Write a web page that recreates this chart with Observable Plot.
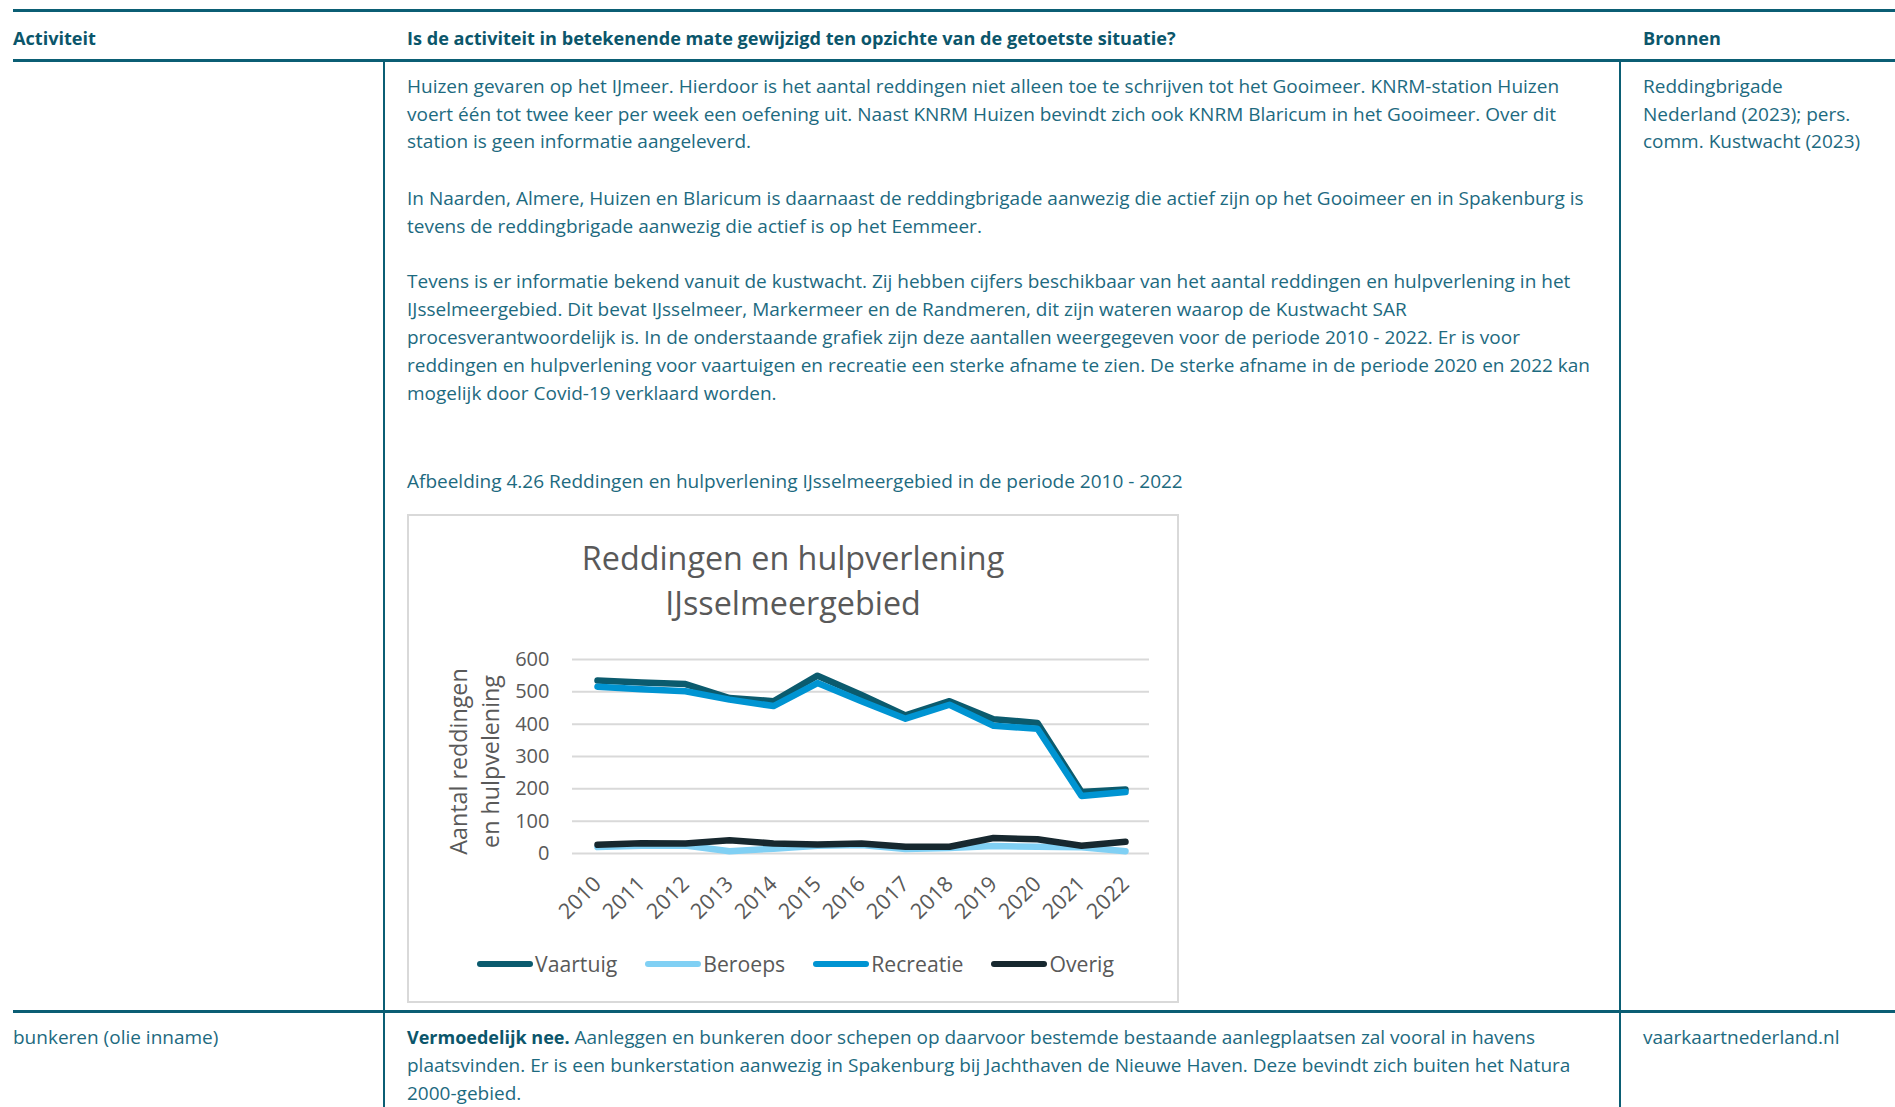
<!DOCTYPE html>
<html>
<head>
<meta charset="utf-8">
<script src="https://cdn.jsdelivr.net/npm/d3@7"></script>
<script src="https://cdn.jsdelivr.net/npm/@observablehq/plot@0.6"></script>
<style>
  body { margin: 0; background: #fff; }
  #page { position: relative; width: 1895px; height: 1107px; overflow: hidden; font-family: "Open Sans", sans-serif; color: #1d6a7f; }
  .hl { position: absolute; background: #0b5e74; height: 3px; left: 13px; right: 0; }
  .vl { position: absolute; background: #0b5e74; width: 2px; top: 61px; bottom: 0; }
  .t { position: absolute; white-space: nowrap; font-size: 19px; line-height: 27.9px; }
  .h { font-weight: 700; color: #0b566b; font-size: 18.1px; }
  b.h { font-size: 18px; }
  #box { position: absolute; left: 407px; top: 514px; width: 772px; height: 489px; box-sizing: border-box; border: 2px solid #d9d9d9; }
  #ctitle { position: absolute; left: 407px; width: 772px; top: 535px; text-align: center; font-size: 32.3px; line-height: 45px; color: #595959; }
  #chart { position: absolute; left: 407px; top: 630px; }
  #chart g[aria-label^="x-axis"] { font-size: 21.5px; }
  #legend { position: absolute; left: 409.5px; width: 772px; top: 949px; display: flex; justify-content: center; align-items: center; gap: 28px; font-size: 21.2px; color: #595959; }
  #legend .it { display: flex; align-items: center; }
  #legend svg { margin-right: 2px; }
</style>
</head>
<body>
<div id="page">
  <div class="hl" style="top:9px"></div>
  <div class="hl" style="top:59px"></div>
  <div class="hl" style="top:1010px"></div>
  <div class="vl" style="left:383px"></div>
  <div class="vl" style="left:1619px"></div>

  <div class="t h" style="left:13px;top:25px">Activiteit</div>
  <div class="t h" style="left:407px;top:25px">Is de activiteit in betekenende mate gewijzigd ten opzichte van de getoetste situatie?</div>
  <div class="t h" style="left:1643px;top:25px">Bronnen</div>

  <div class="t" style="left:407px;top:72.6px">Huizen gevaren op het IJmeer. Hierdoor is het aantal reddingen niet alleen toe te schrijven tot het Gooimeer. KNRM-station Huizen<br>voert één tot twee keer per week een oefening uit. Naast KNRM Huizen bevindt zich ook KNRM Blaricum in het Gooimeer. Over dit<br>station is geen informatie aangeleverd.</div>
  <div class="t" style="left:407px;top:185px">In Naarden, Almere, Huizen en Blaricum is daarnaast de reddingbrigade aanwezig die actief zijn op het Gooimeer en in Spakenburg is<br>tevens de reddingbrigade aanwezig die actief is op het Eemmeer.</div>
  <div class="t" style="left:407px;top:268.4px">Tevens is er informatie bekend vanuit de kustwacht. Zij hebben cijfers beschikbaar van het aantal reddingen en hulpverlening in het<br>IJsselmeergebied. Dit bevat IJsselmeer, Markermeer en de Randmeren, dit zijn wateren waarop de Kustwacht SAR<br>procesverantwoordelijk is. In de onderstaande grafiek zijn deze aantallen weergegeven voor de periode 2010 - 2022. Er is voor<br>reddingen en hulpverlening voor vaartuigen en recreatie een sterke afname te zien. De sterke afname in de periode 2020 en 2022 kan<br>mogelijk door Covid-19 verklaard worden.</div>
  <div class="t" style="left:407px;top:467.8px">Afbeelding 4.26 Reddingen en hulpverlening IJsselmeergebied in de periode 2010 - 2022</div>
  <div class="t" style="left:1643px;top:72.6px">Reddingbrigade<br>Nederland (2023); pers.<br>comm. Kustwacht (2023)</div>

  <div id="box"></div>
  <div id="ctitle"></div>
  <div id="chart"></div>
  <div id="legend"></div>

  <div class="t" style="left:13px;top:1023.8px">bunkeren (olie inname)</div>
  <div class="t" style="left:407px;top:1023.8px"><b class="h">Vermoedelijk nee.</b> Aanleggen en bunkeren door schepen op daarvoor bestemde bestaande aanlegplaatsen zal vooral in havens<br>plaatsvinden. Er is een bunkerstation aanwezig in Spakenburg bij Jachthaven de Nieuwe Haven. Deze bevindt zich buiten het Natura<br>2000-gebied.</div>
  <div class="t" style="left:1643px;top:1023.8px">vaarkaartnederland.nl</div>
</div>
<script>
const years = [2010, 2011, 2012, 2013, 2014, 2015, 2016, 2017, 2018, 2019, 2020, 2021, 2022];
const vaartuig  = [535, 529, 524, 481, 471, 550, 490, 427, 471, 415, 404, 190, 198];
const beroeps   = [20, 24, 25, 7, 15, 24, 26, 14, 17, 23, 21, 19, 7];
const recreatie = [516, 508, 502, 476, 456, 527, 471, 417, 460, 395, 386, 178, 190];
const overig    = [27, 32, 31, 41, 31, 28, 31, 21, 21, 48, 44, 24, 36];
const seriesNames = ["Vaartuig", "Beroeps", "Recreatie", "Overig"];
const seriesColors = ["#0b5b6e", "#80d0f4", "#0094d2", "#17282f"];
const yTicks = [0, 100, 200, 300, 400, 500, 600];
const chartTitle = ["Reddingen en hulpverlening", "IJsselmeergebied"];
const yTitle = "Aantal reddingen\nen hulpvelening";

const allSeries = [vaartuig, beroeps, recreatie, overig];

document.getElementById("ctitle").innerHTML = chartTitle.join("<br>");

const chart = Plot.plot({
  width: 772,
  height: 300,
  marginLeft: 165,
  marginRight: 30,
  marginTop: 29,
  marginBottom: 77,
  style: { fontFamily: "Open Sans", fontSize: "20px", color: "#595959", background: "transparent", overflow: "visible" },
  x: { type: "point", domain: years, padding: 0.5, label: null, tickSize: 0, tickPadding: 27, tickRotate: -45, tickFormat: d => `${d}` },
  y: { domain: [0, 600], ticks: yTicks, label: null, tickSize: 0, tickPadding: 23 },
  marks: [
    Plot.ruleY(yTicks, { stroke: "#d9d9d9", strokeWidth: 2 }),
    ...allSeries.map((vals, k) => Plot.line(years, {
      x: d => d,
      y: (d, i) => vals[i],
      stroke: seriesColors[k],
      strokeWidth: 6.5,
      strokeLinejoin: "round",
      strokeLinecap: "round"
    })),
    Plot.text([yTitle], { frameAnchor: "left", textAnchor: "middle", lineAnchor: "middle", rotate: -90, dx: -100, dy: 5, fontSize: 23.3, lineHeight: 1.4, fill: "#595959" })
  ]
});
document.getElementById("chart").appendChild(chart);

const legend = document.getElementById("legend");
seriesNames.forEach((name, k) => {
  const it = document.createElement("div");
  it.className = "it";
  it.innerHTML = `<svg width="56" height="10"><line x1="3" y1="5" x2="53" y2="5" stroke="${seriesColors[k]}" stroke-width="6" stroke-linecap="round"/></svg><span>${name}</span>`;
  legend.appendChild(it);
});
</script>
</body>
</html>
